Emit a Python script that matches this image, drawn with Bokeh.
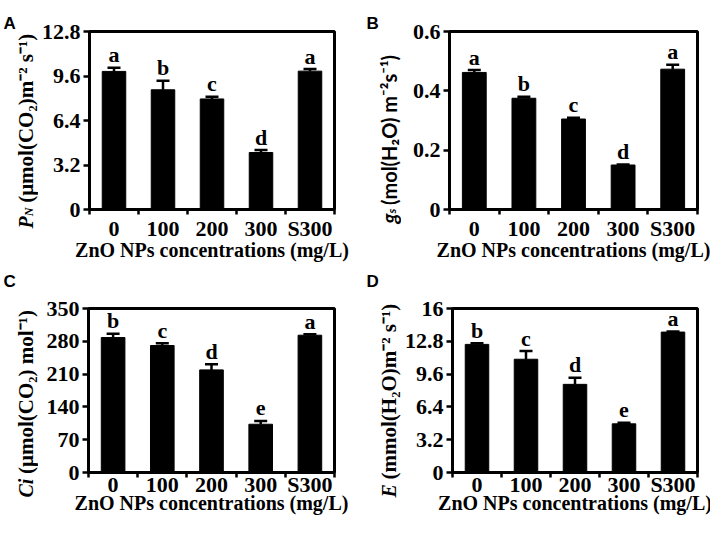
import math
from bokeh.plotting import figure
from bokeh.models import Range1d, FixedTicker, ColumnDataSource, Whisker, TeeHead, Label
from bokeh.layouts import column, row
from bokeh.embed import file_html
from bokeh.resources import INLINE
from bokeh.core.properties import value

# ---------------- data ----------------
categories = ["0", "100", "200", "300", "S300"]
x_title = "ZnO NPs concentrations (mg/L)"

pn_mean = [9.93, 8.61, 7.95, 4.10, 9.95]
pn_err = [0.26, 0.65, 0.15, 0.17, 0.15]
pn_letters = ["a", "b", "c", "d", "a"]
pn_ticks = [0, 3.2, 6.4, 9.6, 12.8]
pn_tick_labels = ["0", "3.2", "6.4", "9.6", "12.8"]

gs_mean = [0.462, 0.375, 0.305, 0.150, 0.473]
gs_err = [0.008, 0.005, 0.004, 0.002, 0.015]
gs_letters = ["a", "b", "c", "d", "a"]
gs_ticks = [0, 0.2, 0.4, 0.6]
gs_tick_labels = ["0", "0.2", "0.4", "0.6"]

ci_mean = [288, 271, 219, 103, 293]
ci_err = [8, 5, 12, 7, 2]
ci_letters = ["b", "c", "d", "e", "a"]
ci_ticks = [0, 70, 140, 210, 280, 350]
ci_tick_labels = ["0", "70", "140", "210", "280", "350"]

e_mean = [12.5, 11.05, 8.6, 4.75, 13.7]
e_err = [0.1, 0.8, 0.65, 0.1, 0.05]
e_letters = ["b", "c", "d", "e", "a"]
e_ticks = [0, 3.2, 6.4, 9.6, 12.8, 16]
e_tick_labels = ["0", "3.2", "6.4", "9.6", "12.8", "16"]

pn_label = ["P", "N", "(μmol(CO₂)m⁻² s⁻¹)"]
gs_label = ["g", "s", "(mol(H₂O) m⁻²s⁻¹)"]
ci_label = ["Ci", "", "(μmol(CO₂) mol⁻¹)"]
e_label = ["E", "", "(mmol(H₂O)m⁻² s⁻¹)"]

SERIF = "Liberation Serif"
SANS = "Liberation Sans"


def no_align(f):
    try:
        f.frame_align = False
    except Exception:
        pass


def blank(w, h):
    s = figure(width=w, height=h, x_range=Range1d(0, w), y_range=Range1d(0, h),
               output_backend="svg", toolbar_location=None,
               x_axis_location=None, y_axis_location=None,
               min_border_left=0, min_border_right=0, min_border_top=0, min_border_bottom=0)
    s.grid.visible = False
    s.outline_line_color = None
    s.background_fill_color = "white"
    s.border_fill_color = "white"
    no_align(s)
    return s


def make_panel(mean, err, letters, ticks, tick_labels, ymax, ylab, g):
    n = len(categories)
    W, H, L, R, T, B = g["W"], g["H"], g["L"], g["R"], g["T"], g["B"]
    fh = H - T - B

    def dy(px):
        return px / fh * ymax

    p = figure(width=W, height=H, x_range=Range1d(0, n), y_range=Range1d(0, ymax),
               output_backend="svg", toolbar_location=None,
               min_border_left=L, min_border_right=R, min_border_top=T, min_border_bottom=B)
    no_align(p)
    p.grid.visible = False
    p.outline_line_color = "black"
    p.outline_line_width = 3
    p.background_fill_color = "white"
    p.border_fill_color = "white"

    centers = [i + 0.5 for i in range(n)]
    src = ColumnDataSource(dict(
        x=centers, top=mean,
        upper=[m + e for m, e in zip(mean, err)],
        ly=[m + e + dy(13) for m, e in zip(mean, err)],
        lt=letters))

    p.vbar(x="x", top="top", bottom=0, width=0.48, source=src,
           fill_color="black", line_color="black", line_width=1)
    p.add_layout(Whisker(source=src, base="x", upper="upper", lower="top",
                         upper_head=TeeHead(size=13, line_width=2.5, line_color="black"),
                         lower_head=None, line_width=2.5, line_color="black"))
    p.text(x="x", y="ly", text="lt", source=src, text_align="center",
           text_baseline="alphabetic", text_font=value(SERIF), text_font_style="bold",
           text_font_size="22px", text_color="black")

    xa = p.xaxis[0]
    xa.ticker = FixedTicker(ticks=centers, minor_ticks=list(range(n + 1)))
    xa.major_label_overrides = {c: lab for c, lab in zip(centers, categories)}
    xa.major_tick_out = 0
    xa.major_tick_in = 0
    xa.minor_tick_out = 5
    xa.minor_tick_in = 0
    xa.minor_tick_line_width = 2.5
    xa.minor_tick_line_color = "black"
    xa.axis_line_width = 3
    xa.axis_line_color = "black"
    xa.major_label_text_font = SERIF
    xa.major_label_text_font_style = "bold"
    xa.major_label_text_font_size = "22px"
    xa.major_label_text_color = "black"
    xa.major_label_standoff = g["xstand"]
    xa.axis_label = x_title
    xa.axis_label_text_font = SERIF
    xa.axis_label_text_font_style = "bold"
    xa.axis_label_text_font_size = "20px"
    xa.axis_label_text_color = "black"
    xa.axis_label_standoff = g["xlstand"]

    ya = p.yaxis[0]
    ya.ticker = FixedTicker(ticks=ticks, minor_ticks=[])
    ya.major_label_overrides = {t: lab for t, lab in zip(ticks, tick_labels)}
    ya.major_tick_out = 6
    ya.major_tick_in = 0
    ya.major_tick_line_width = 2.5
    ya.major_tick_line_color = "black"
    ya.minor_tick_out = 0
    ya.minor_tick_in = 0
    ya.axis_line_width = 3
    ya.axis_line_color = "black"
    ya.major_label_text_font = SERIF
    ya.major_label_text_font_style = "bold"
    ya.major_label_text_font_size = "22px"
    ya.major_label_text_color = "black"
    ya.major_label_standoff = 3

    # ---- left strip: rotated y-axis title (in pieces) and panel letter ----
    ys = blank(g["SW"], H)
    font = g["yfont"]
    pieces = [
        (ylab[0], 20, "bold italic", 0, g["adv0"]),
        (ylab[1], 12, "bold italic", 3, g["adv1"]),
        (ylab[2], g["rest_size"], "bold", 0, 0),
    ]
    cum = 0.0
    for txt, size, style, shift, adv in pieces:
        if txt:
            ys.add_layout(Label(x=g["ylx"] + shift, y=g["yly"] + cum, text=txt,
                                angle=math.pi / 2, text_align="left",
                                text_baseline="alphabetic", text_font=font,
                                text_font_style=style, text_font_size=f"{size}px",
                                text_color="black"))
        cum += adv
    ys.add_layout(Label(x=g["lx"], y=g["ly"], text=g["letter"], text_align="left",
                        text_baseline="alphabetic", text_font=SANS,
                        text_font_style="bold", text_font_size="17px", text_color="black"))
    return ys, p


geoA = dict(SW=38, W=317, H=268, L=50, R=21, T=31, B=59, xstand=1, xlstand=-5,
            ylx=25, yly=40, yfont=SERIF, adv0=12.2, adv1=13.5, rest_size=21,
            lx=3, ly=245, letter="A")
geoB = dict(SW=46, W=309, H=268, L=48, R=13, T=31, B=59, xstand=1, xlstand=-5,
            ylx=33, yly=45, yfont="Lato", adv0=10, adv1=8.5, rest_size=20,
            lx=11, ly=245, letter="B")
geoC = dict(SW=38, W=317, H=252, L=50, R=21, T=40, B=48, xstand=-6, xlstand=-8,
            ylx=25, yly=23, yfont=SERIF, adv0=23.5, adv1=0, rest_size=21,
            lx=3, ly=239, letter="C")
geoD = dict(SW=46, W=309, H=252, L=48, R=13, T=40, B=48, xstand=-6, xlstand=-8,
            ylx=33, yly=23, yfont=SERIF, adv0=18, adv1=0, rest_size=21,
            lx=11, ly=239, letter="D")

sA, pA = make_panel(pn_mean, pn_err, pn_letters, pn_ticks, pn_tick_labels, 12.8, pn_label, geoA)
sB, pB = make_panel(gs_mean, gs_err, gs_letters, gs_ticks, gs_tick_labels, 0.6, gs_label, geoB)
sC, pC = make_panel(ci_mean, ci_err, ci_letters, ci_ticks, ci_tick_labels, 350, ci_label, geoC)
sD, pD = make_panel(e_mean, e_err, e_letters, e_ticks, e_tick_labels, 16, e_label, geoD)

layout = column(row(sA, pA, sB, pB), row(sC, pC, sD, pD))
open("out.html", "w").write(file_html(layout, INLINE))
